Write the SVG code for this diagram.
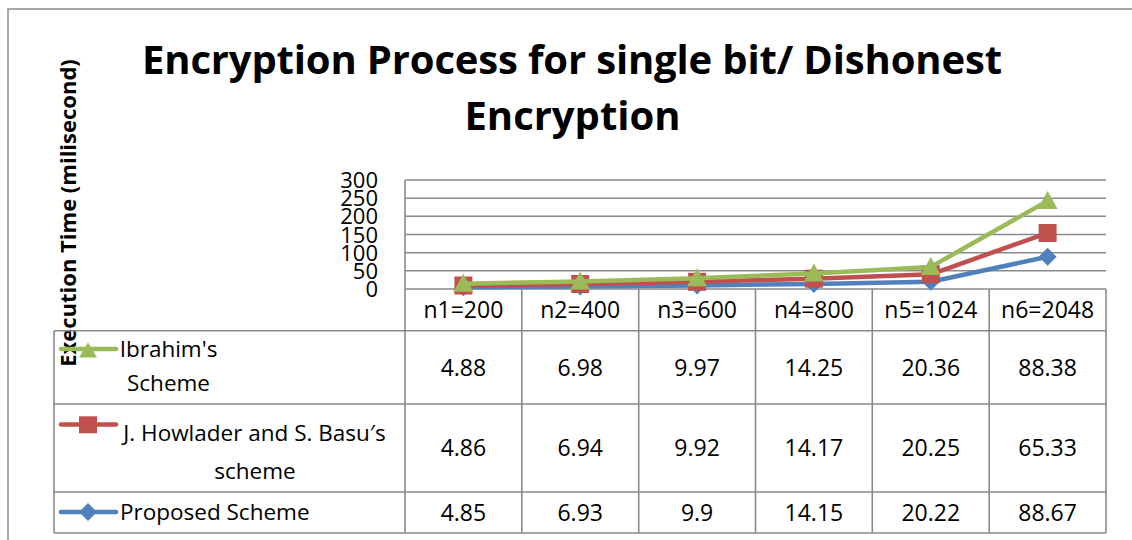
<svg xmlns="http://www.w3.org/2000/svg" width="1132" height="540" viewBox="0 0 1132 540">
<style>
.frame{fill:none;stroke:#8a8a8a;stroke-width:1.5}
.grid{stroke:#8a8a8a;stroke-width:1.6;fill:none}
.title{font-family:"Open Sans","Liberation Sans",sans-serif;font-weight:bold;font-size:40px;fill:#000;text-anchor:middle}
.axt{font-family:"Open Sans","Liberation Sans",sans-serif;font-weight:bold;font-size:22px;fill:#000;text-anchor:middle}
.tick{font-family:"Open Sans","Liberation Sans",sans-serif;font-size:22px;fill:#000;text-anchor:end}
.cell{font-family:"Open Sans","Liberation Sans",sans-serif;font-size:23px;fill:#000;text-anchor:middle}
.leg{font-family:"Open Sans","Liberation Sans",sans-serif;font-size:22.5px;fill:#000}
.blue{stroke:#4f81bd;stroke-width:4.5;fill:none;stroke-linejoin:round;stroke-linecap:round}
.red{stroke:#c0504d;stroke-width:4.5;fill:none;stroke-linejoin:round;stroke-linecap:round}
.green{stroke:#9bbb59;stroke-width:4.5;fill:none;stroke-linejoin:round;stroke-linecap:round}
.mb{fill:#4f81bd}
.mr{fill:#c0504d}
.mg{fill:#9bbb59}
</style>
<defs>
<polygon id="tri" points="0,-10 10,8 -10,8"/>
<rect id="sq" x="-9" y="-9" width="18" height="18"/>
<polygon id="dia" points="0,-9 9,0 0,9 -9,0"/>
<polygon id="ltri" points="0,-7.5 9,7.5 -9,7.5"/>
<rect id="lsq" x="-9" y="-8.5" width="18" height="17"/>
</defs>
<rect width="1132" height="540" fill="#fff"/>
<path class="frame" d="M8,545 V9 H1140"/>

<g id="chart-title">
<text class="title" x="572" y="74" textLength="860">Encryption Process for single bit/ Dishonest</text>
<text class="title" x="572.5" y="130">Encryption</text>
</g>

<g id="y-axis-title">
<text class="axt" transform="translate(76,213) rotate(-90)">Execution Time (milisecond)</text>
</g>

<g id="grid">
<path class="grid" d="M405,180 H1106 M405,198.2 H1106 M405,216.3 H1106 M405,234.5 H1106 M405,252.7 H1106 M405,270.8 H1106 M405,289 H1106"/>
<path class="grid" d="M405,180 V533"/>
</g>

<g id="y-ticks">
<text class="tick" x="378" y="188">300</text>
<text class="tick" x="378" y="206.2">250</text>
<text class="tick" x="378" y="224.3">200</text>
<text class="tick" x="378" y="242.5">150</text>
<text class="tick" x="378" y="260.7">100</text>
<text class="tick" x="378" y="278.8">50</text>
<text class="tick" x="378" y="297">0</text>
</g>

<g id="data-table">
<path class="grid" d="M521.8,289 V533 M638.7,289 V533 M755.5,289 V533 M872.3,289 V533 M989.2,289 V533 M1106,289 V533"/>
<path class="grid" d="M54,330.7 H1106 M54,404 H1106 M54,492 H1106 M54,533 H1106 M54,330.7 V533"/>
<g id="header-row">
<text class="cell" x="463.4" y="318">n1=200</text>
<text class="cell" x="580.2" y="318">n2=400</text>
<text class="cell" x="697.1" y="318">n3=600</text>
<text class="cell" x="813.9" y="318">n4=800</text>
<text class="cell" x="930.8" y="318">n5=1024</text>
<text class="cell" x="1047.6" y="318">n6=2048</text>
</g>
<g id="row-ibrahim">
<path class="green" d="M61,349 H116"/>
<use href="#ltri" class="mg" x="88" y="350"/>
<text class="leg" x="168.5" y="357" text-anchor="middle">Ibrahim's</text>
<text class="leg" x="168.5" y="391" text-anchor="middle">Scheme</text>
<text class="cell" x="463.4" y="375.5">4.88</text>
<text class="cell" x="580.2" y="375.5">6.98</text>
<text class="cell" x="697.1" y="375.5">9.97</text>
<text class="cell" x="813.9" y="375.5">14.25</text>
<text class="cell" x="930.8" y="375.5">20.36</text>
<text class="cell" x="1047.6" y="375.5">88.38</text>
</g>
<g id="row-howlader">
<path class="red" d="M61,424.5 H116"/>
<use href="#lsq" class="mr" x="88" y="424.8"/>
<text class="leg" x="254.5" y="441" text-anchor="middle">J. Howlader and S. Basu′s</text>
<text class="leg" x="255" y="479" text-anchor="middle">scheme</text>
<text class="cell" x="463.4" y="456.3">4.86</text>
<text class="cell" x="580.2" y="456.3">6.94</text>
<text class="cell" x="697.1" y="456.3">9.92</text>
<text class="cell" x="813.9" y="456.3">14.17</text>
<text class="cell" x="930.8" y="456.3">20.25</text>
<text class="cell" x="1047.6" y="456.3">65.33</text>
</g>
<g id="row-proposed">
<path class="blue" d="M61,512 H116"/>
<use href="#dia" class="mb" x="88" y="512"/>
<text class="leg" x="120" y="519.5">Proposed Scheme</text>
<text class="cell" x="463.4" y="520.7">4.85</text>
<text class="cell" x="580.2" y="520.7">6.93</text>
<text class="cell" x="697.1" y="520.7">9.9</text>
<text class="cell" x="813.9" y="520.7">14.15</text>
<text class="cell" x="930.8" y="520.7">20.22</text>
<text class="cell" x="1047.6" y="520.7">88.67</text>
</g>
</g>

<g id="connectors">
<g id="series-proposed">
<polyline class="blue" points="463.4,287.2 580.2,286.5 697.1,285.4 813.9,283.9 930.8,281.7 1047.6,256.8"/>
<use href="#dia" class="mb" x="463.4" y="287.2"/>
<use href="#dia" class="mb" x="580.2" y="286.5"/>
<use href="#dia" class="mb" x="697.1" y="285.4"/>
<use href="#dia" class="mb" x="813.9" y="283.9"/>
<use href="#dia" class="mb" x="930.8" y="281.7"/>
<use href="#dia" class="mb" x="1047.6" y="256.8"/>
</g>
<g id="series-howlader">
<polyline class="red" points="463.4,285.5 580.2,284 697.1,281.8 813.9,278.7 930.8,274.3 1047.6,233"/>
<use href="#sq" class="mr" x="463.4" y="285.5"/>
<use href="#sq" class="mr" x="580.2" y="284"/>
<use href="#sq" class="mr" x="697.1" y="281.8"/>
<use href="#sq" class="mr" x="813.9" y="278.7"/>
<use href="#sq" class="mr" x="930.8" y="274.3"/>
<use href="#sq" class="mr" x="1047.6" y="233"/>
</g>
<g id="series-ibrahim">
<polyline class="green" points="463.4,283.7 580.2,281.4 697.1,278.2 813.9,273.5 930.8,266.9 1047.6,200.9"/>
<use href="#tri" class="mg" x="463.4" y="283.7"/>
<use href="#tri" class="mg" x="580.2" y="281.4"/>
<use href="#tri" class="mg" x="697.1" y="278.2"/>
<use href="#tri" class="mg" x="813.9" y="273.5"/>
<use href="#tri" class="mg" x="930.8" y="266.9"/>
<use href="#tri" class="mg" x="1047.6" y="200.9"/>
</g>
</g>
</svg>
